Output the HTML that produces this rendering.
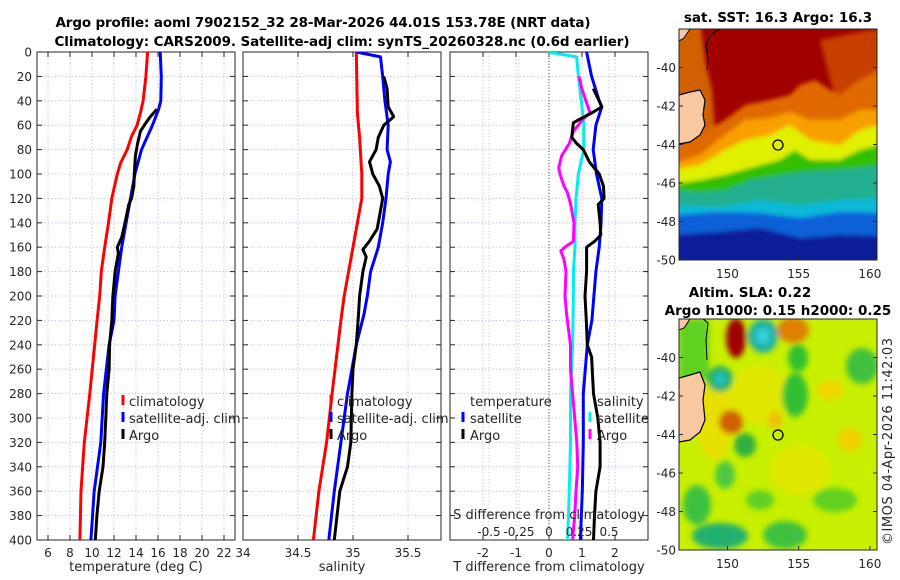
<!DOCTYPE html>
<html><head><meta charset="utf-8">
<style>
html,body{margin:0;padding:0;background:#fff;}
svg{display:block;font-family:"DejaVu Sans","Liberation Sans",sans-serif;}
.tk{font-size:12px;fill:#262626;}
.tt{font-size:13.5px;font-weight:bold;fill:#000;}
.lab{font-size:13px;fill:#262626;}
.lg{font-size:13px;fill:#262626;}
</style></head>
<body>
<svg id="fig" width="900" height="580" viewBox="0 0 900 580" xmlns="http://www.w3.org/2000/svg">
<defs>
<clipPath id="c1"><rect x="37" y="52" width="198" height="488"/></clipPath>
<clipPath id="c2"><rect x="243" y="52" width="198" height="488"/></clipPath>
<clipPath id="c3"><rect x="450" y="52" width="198" height="488"/></clipPath>
<clipPath id="cm1"><rect x="679" y="29" width="198" height="231"/></clipPath>
<clipPath id="cm2"><rect x="679" y="319" width="198" height="231"/></clipPath>
<filter id="blur4"><feGaussianBlur stdDeviation="3"/></filter>
<filter id="blur2"><feGaussianBlur stdDeviation="2"/></filter>
</defs>
<text class="tt" x="323" y="27" text-anchor="middle" textLength="535">Argo profile: aoml 7902152_32 28-Mar-2026 44.01S 153.78E (NRT data)</text>
<text class="tt" x="342" y="46" text-anchor="middle" textLength="575">Climatology: CARS2009. Satellite-adj clim: synTS_20260328.nc (0.6d earlier)</text>
<g id="p1"></g>
<g id="p2"></g>
<g id="p3"></g>

<!-- SST map -->
<g>
<text class="tt" x="778" y="22" text-anchor="middle">sat. SST: 16.3 Argo: 16.3</text>
<g clip-path="url(#cm1)">
<rect x="679" y="29" width="198" height="231" fill="#a00000"/>
<g filter="url(#blur2)">
<path d="M670,20 L700,20 L705,60 L712,90 L715,130 L720,150 L670,150Z" fill="#d06000"/>
<path d="M820,40 L870,30 L880,30 L880,120 L840,110 L830,80Z" fill="#c84000"/>
<path d="M670,140 L700,135 L725,120 L745,105 L770,100 L790,95 L800,85 L815,80 L830,90 L840,95 L860,80 L880,70 L880,300 L670,300Z" fill="#e06a00"/>
<path d="M670,165 L700,155 L725,135 L745,120 L770,118 L790,112 L810,120 L840,120 L860,110 L880,110 L880,300 L670,300Z" fill="#f8a000"/>
<path d="M670,170 L700,165 L725,150 L745,140 L770,135 L790,125 L810,140 L840,145 L860,130 L880,125 L880,300 L670,300Z" fill="#e0f000"/>
<path d="M670,185 L700,180 L725,175 L750,168 L780,160 L795,150 L810,160 L840,160 L860,150 L880,145 L880,300 L670,300Z" fill="#30c000"/>
<path d="M670,190 L700,192 L725,190 L750,180 L780,175 L800,172 L830,170 L860,168 L880,165 L880,300 L670,300Z" fill="#20b090"/>
<path d="M670,205 L720,207 L760,200 L800,205 L840,200 L880,198 L880,300 L670,300Z" fill="#10b8d8"/>
<path d="M670,215 L720,212 L760,213 L800,218 L840,212 L880,213 L880,300 L670,300Z" fill="#1060d8"/>
<path d="M670,235 L720,232 L760,228 L800,238 L840,235 L880,236 L880,300 L670,300Z" fill="#0a1a9a"/>
</g>
<path d="M679,29 L690,29 L684,38 L679,41Z" fill="#f8c8a0" stroke="#000" stroke-width="1"/>
<path d="M705,29 L720,29 L715,32 L710,36 L706,45 L708,60 L707,70" fill="none" stroke="#000" stroke-width="1"/>
<path d="M679,95 L690,92 L700,90 L705,100 L703,115 L705,125 L700,135 L690,142 L679,144Z" fill="#f8c8a0" stroke="#000" stroke-width="1.2"/>
</g>
<rect x="679" y="29" width="198" height="231" fill="none" stroke="#262626" stroke-width="1"/>
<circle cx="778" cy="145" r="5" fill="none" stroke="#000" stroke-width="1.3"/>
</g>

<!-- SLA map -->
<g>
<text class="tt" x="750" y="297" text-anchor="middle">Altim. SLA: 0.22</text>
<text class="tt" x="778" y="315" text-anchor="middle">Argo h1000: 0.15 h2000: 0.25</text>
<g clip-path="url(#cm2)">
<rect x="679" y="319" width="198" height="231" fill="#c8f000"/>
<g filter="url(#blur4)">
<rect x="679" y="319" width="30" height="60" fill="#60d020"/>
<ellipse cx="715" cy="420" rx="18" ry="40" fill="#e8e000"/>
<ellipse cx="760" cy="395" rx="30" ry="30" fill="#e0e800"/>
<ellipse cx="800" cy="470" rx="30" ry="25" fill="#e0e800"/>
<ellipse cx="736" cy="338" rx="10" ry="20" fill="#a00000"/>
<ellipse cx="763" cy="336" rx="15" ry="17" fill="#20b0a0"/>
<ellipse cx="763" cy="336" rx="7" ry="8" fill="#30d0e0"/>
<ellipse cx="793" cy="330" rx="16" ry="13" fill="#e08000"/>
<ellipse cx="720" cy="379" rx="13" ry="13" fill="#20b060"/>
<ellipse cx="720" cy="379" rx="6" ry="7" fill="#20c0c0"/>
<ellipse cx="731" cy="422" rx="12" ry="12" fill="#d06000"/>
<ellipse cx="795" cy="395" rx="13" ry="22" fill="#30c030"/>
<ellipse cx="798" cy="358" rx="10" ry="14" fill="#30c030"/>
<ellipse cx="745" cy="445" rx="11" ry="12" fill="#30b040"/>
<ellipse cx="720" cy="536" rx="28" ry="13" fill="#20b070"/>
<ellipse cx="697" cy="505" rx="14" ry="20" fill="#40c040"/>
<ellipse cx="862" cy="366" rx="16" ry="18" fill="#40c040"/>
<ellipse cx="785" cy="535" rx="22" ry="14" fill="#40c040"/>
<ellipse cx="835" cy="500" rx="22" ry="12" fill="#60d020"/>
<ellipse cx="760" cy="500" rx="14" ry="10" fill="#60d020"/>
<ellipse cx="725" cy="475" rx="10" ry="14" fill="#50c840"/>
<ellipse cx="850" cy="440" rx="12" ry="12" fill="#f0d000"/>
<ellipse cx="775" cy="420" rx="7" ry="9" fill="#f0c000"/>
<ellipse cx="830" cy="390" rx="14" ry="10" fill="#f0d800"/>
</g>
<path d="M679,319 L690,319 L684,328 L679,330Z" fill="#f8c8a0" stroke="#000" stroke-width="1"/>
<path d="M703,319 L708,323 L706,340 L707,360" fill="none" stroke="#000" stroke-width="1"/>
<path d="M679,378 L690,375 L700,372 L705,385 L703,400 L705,420 L700,432 L690,440 L679,442Z" fill="#f8c8a0" stroke="#000" stroke-width="1.2"/>
</g>
<rect x="679" y="319" width="198" height="231" fill="none" stroke="#262626" stroke-width="1"/>
<circle cx="778" cy="435" r="5" fill="none" stroke="#000" stroke-width="1.3"/>
</g>
<text class="lab" transform="translate(892,545) rotate(-90)" textLength="207">©IMOS 04-Apr-2026 11:42:03</text>
</svg>
<script>
// ---- data (depth in m, values in data units) ----
const depthTicks = [0,20,40,60,80,100,120,140,160,180,200,220,240,260,280,300,320,340,360,380,400];
const tempTicks = [6,8,10,12,14,16,18,20,22];
const salTicks = [34,34.5,35,35.5];
const tdTicks = [-2,-1,0,1,2];
const sdTicks = [-0.5,-0.25,0,0.25,0.5];
const sdTickLabels = ["-0.5","-0.25","0","0.25","0.5"];
const latTicks = [-40,-42,-44,-46,-48,-50];
const lonTicks = [150,155,160];

const tClimDepth = [0,20,40,50,60,69,80,91,100,120,140,160,180,200,220,280,320,360,400];
const tClimVal   = [15.05,14.9,14.65,14.4,14.1,13.6,13.2,12.6,12.3,11.8,11.5,11.15,10.85,10.7,10.46,9.8,9.3,9.0,8.9];
const tSatDepth = [0,20,40,47,60,70,80,90,100,120,140,160,180,200,220,240,280,320,360,400];
const tSatVal   = [16.2,16.3,16.25,16.05,15.5,15.0,14.5,14.2,13.9,13.5,13.1,12.7,12.4,12.1,12.0,11.55,11.05,10.8,10.2,9.9];
const tArgoDepth = [47,53,58,65,75,85,100,110,120,125,140,152,160,165,180,200,220,240,260,280,300,320,340,360,380,400];
const tArgoVal   = [15.9,15.3,14.9,14.4,14.15,13.95,13.85,13.8,13.6,13.35,13.0,12.7,12.3,12.4,12.1,11.9,11.8,11.6,11.55,11.35,11.25,11.15,11.0,10.65,10.45,10.3];

const sClimDepth = [0,50,70,100,120,140,160,180,200,220,280,320,360,400];
const sClimVal   = [35.03,35.04,35.06,35.08,35.08,35.04,35.0,34.96,34.92,34.89,34.81,34.76,34.69,34.64];
const sSatDepth = [0,4,20,40,60,80,90,100,120,140,160,180,200,215,240,280,320,360,400];
const sSatVal   = [35.03,35.25,35.27,35.29,35.32,35.31,35.34,35.32,35.3,35.27,35.23,35.16,35.13,35.1,35.03,34.95,34.89,34.83,34.78];
const sArgoDepth = [20,30,45,53,60,70,80,90,100,110,120,130,145,155,162,168,180,200,215,240,260,280,320,340,360,400];
const sArgoVal   = [35.28,35.31,35.32,35.37,35.28,35.23,35.21,35.15,35.18,35.24,35.27,35.25,35.22,35.15,35.09,35.12,35.09,35.06,35.05,35.03,35.0,34.99,34.98,34.95,34.88,34.83];

const sdSatDepth = [0,4,20,40,60,80,100,120,140,160,180,200,220,240,280,320,360,400];
const sdSatVal   = [-0.01,0.23,0.245,0.27,0.29,0.29,0.245,0.225,0.217,0.217,0.203,0.203,0.2,0.197,0.179,0.179,0.169,0.155];
const sdArgoDepth = [20,30,45,50,55,65,75,85,95,100,110,115,125,140,155,160,163,170,180,200,215,240,260,280,300,320,340,360,380,400];
const sdArgoVal   = [0.25,0.273,0.325,0.342,0.283,0.203,0.169,0.106,0.081,0.092,0.125,0.153,0.181,0.208,0.203,0.133,0.098,0.125,0.142,0.133,0.147,0.179,0.179,0.197,0.214,0.232,0.239,0.225,0.214,0.197];
const tdSatDepth = [0,20,40,45,60,80,100,120,140,160,180,200,220,240,260,280,320,360,400];
const tdSatVal   = [1.14,1.29,1.52,1.6,1.42,1.34,1.44,1.6,1.58,1.52,1.42,1.36,1.3,1.16,1.1,1.04,1.04,1.01,0.95];
const tdArgoDepth = [30,40,45,50,55,58,62,70,75,80,90,100,110,120,125,140,150,155,160,180,200,220,240,250,280,300,320,340,360,380,400];
const tdArgoVal   = [1.34,1.52,1.6,1.29,0.94,0.74,0.72,0.69,0.84,1.04,1.22,1.52,1.65,1.67,1.49,1.55,1.57,1.39,1.14,1.14,1.09,1.13,1.16,1.29,1.35,1.48,1.55,1.55,1.42,1.38,1.35];

// ---- layout ----
const NS='http://www.w3.org/2000/svg';
const Y0=52,Y1=540;
const yD=d=>Y0+(d/400)*(Y1-Y0);
function lin(d0,d1,r0,r1){return v=>r0+(v-d0)/(d1-d0)*(r1-r0);}
const xT=lin(5,23,37,235), xS=lin(34,35.8,243,441), xTd=lin(-3,3,450,648), xSd=lin(-0.825,0.825,450,648);
function mk(tag,attrs,parent){const e=document.createElementNS(NS,tag);for(const k in attrs)e.setAttribute(k,attrs[k]);parent.appendChild(e);return e;}

function panel(g,x0,clip,xs,ticks,labels,showY){
  const gr=mk('g',{},g);
  ticks.forEach(t=>{mk('line',{x1:xs(t),x2:xs(t),y1:Y0,y2:Y1,stroke:'#b8bedc','stroke-width':0.8,'stroke-dasharray':'1.5,2'},gr);});
  depthTicks.forEach(d=>{mk('line',{x1:x0,x2:x0+198,y1:yD(d),y2:yD(d),stroke:'#b8bedc','stroke-width':0.8,'stroke-dasharray':'1.5,2'},gr);
    mk('line',{x1:x0,x2:x0+5,y1:yD(d),y2:yD(d),stroke:'#262626'},gr);
    mk('line',{x1:x0+193,x2:x0+198,y1:yD(d),y2:yD(d),stroke:'#262626'},gr);
    if(showY){const t=mk('text',{x:x0-5,y:yD(d)+4.5,'text-anchor':'end',class:'tk'},gr);t.textContent=d;
      
      }
  });
  ticks.forEach((t,i)=>{mk('line',{x1:xs(t),x2:xs(t),y1:Y1,y2:Y1-5,stroke:'#262626'},gr);mk('line',{x1:xs(t),x2:xs(t),y1:Y0,y2:Y0+5,stroke:'#262626'},gr);
    const tx=mk('text',{x:xs(t),y:Y1+17,'text-anchor':'middle',class:'tk'},gr);tx.textContent=labels[i];
    
    });
  mk('rect',{x:x0,y:Y0,width:198,height:Y1-Y0,fill:'none',stroke:'#262626','stroke-width':1},gr);
}
function series(g,clip,xs,dep,val,color,name){
  const pts=dep.map((d,i)=>xs(val[i]).toFixed(1)+','+yD(d).toFixed(1)).join(' ');
  const p=mk('polyline',{points:pts,fill:'none',stroke:color,'stroke-width':3,'stroke-linejoin':'round','clip-path':'url(#'+clip+')'},g);
  
  
}
function text(g,x,y,s,cls,anchor,name){const t=mk('text',{x:x,y:y,class:cls,'text-anchor':anchor||'start'},g);t.textContent=s;
  
  return t;}
function legendBar(g,x,y,color){mk('line',{x1:x,x2:x,y1:y-11,y2:y-1,stroke:color,'stroke-width':3},g);}

const p1=document.getElementById('p1'),p2=document.getElementById('p2'),p3=document.getElementById('p3');
panel(p1,37,'c1',xT,tempTicks,tempTicks.map(String),true);
series(p1,'c1',xT,tClimDepth,tClimVal,'#ff0000','temp-climatology-line');
series(p1,'c1',xT,tSatDepth,tSatVal,'#0000ff','temp-satellite-line');
series(p1,'c1',xT,tArgoDepth,tArgoVal,'#000000','temp-argo-line');
text(p1,136,571,'temperature (deg C)','lab','middle','temperature-axis-title');
[['climatology','#ff0000'],['satellite-adj. clim','#0000ff'],['Argo','#000']].forEach((e,i)=>{legendBar(p1,123,406+i*17,e[1]);text(p1,129,406+i*17,e[0],'lg','start','temp-legend-entry');});

panel(p2,243,'c2',xS,salTicks,['34','34.5','35','35.5'],false);
series(p2,'c2',xS,sClimDepth,sClimVal,'#ff0000','sal-climatology-line');
series(p2,'c2',xS,sSatDepth,sSatVal,'#0000ff','sal-satellite-line');
series(p2,'c2',xS,sArgoDepth,sArgoVal,'#000000','sal-argo-line');
text(p2,342,571,'salinity','lab','middle','salinity-axis-title');
[['climatology','#ff0000'],['satellite-adj. clim','#0000ff'],['Argo','#000']].forEach((e,i)=>{legendBar(p2,331,406+i*17,e[1]);text(p2,337,406+i*17,e[0],'lg','start','sal-legend-entry');});

panel(p3,450,'c3',xTd,tdTicks,tdTicks.map(String),false);
sdTicks.forEach(t=>{if(t!==0)mk('line',{x1:xSd(t),x2:xSd(t),y1:Y0,y2:Y1,stroke:'#e0c0b0','stroke-width':0.8,'stroke-dasharray':'1.5,2'},p3);});
mk('line',{x1:xTd(0),x2:xTd(0),y1:Y0,y2:Y1,stroke:'#4a6a2a','stroke-width':1,'stroke-dasharray':'1,2'},p3);
series(p3,'c3',xSd,sdSatDepth,sdSatVal,'#00eeee','s-diff-satellite-line');
series(p3,'c3',xSd,sdArgoDepth,sdArgoVal,'#ff00ff','s-diff-argo-line');
series(p3,'c3',xTd,tdSatDepth,tdSatVal,'#0000ff','t-diff-satellite-line');
series(p3,'c3',xTd,tdArgoDepth,tdArgoVal,'#000000','t-diff-argo-line');
text(p3,549,571,'T difference from climatology','lab','middle','t-diff-axis-title');
text(p3,549,519,'S difference from climatology','lab','middle','s-diff-axis-title');
sdTicks.forEach((t,i)=>text(p3,xSd(t),536,sdTickLabels[i],'tk','middle','s-diff-tick-label'));
text(p3,470,406,'temperature','lg','start','t-legend-heading');
text(p3,597,406,'salinity','lg','start','s-legend-heading');
legendBar(p3,463,423,'#0000ff');text(p3,470,423,'satellite','lg','start','t-legend-satellite');
legendBar(p3,463,440,'#000');text(p3,470,440,'Argo','lg','start','t-legend-argo');
legendBar(p3,590,423,'#00eeee');text(p3,597,423,'satellite','lg','start','s-legend-satellite');
legendBar(p3,590,440,'#ff00ff');text(p3,597,440,'Argo','lg','start','s-legend-argo');

// map axes
const fig=document.getElementById('fig');
const lonX=lin(146.6,160.5,679,877);
[[29,260],[319,550]].forEach((m,k)=>{
  const latY=lin(-38,-50,m[0],m[1]);
  const g=mk('g',{},fig);
  latTicks.forEach(l=>{const y=latY(l);mk('line',{x1:877,x2:873,y1:y,y2:y,stroke:'#262626'},g);mk('line',{x1:679,x2:683,y1:y,y2:y,stroke:'#262626'},g);
    text(g,676,y+4.5,String(l),'tk','end','map-lat-label');});
  lonTicks.forEach(l=>{const x=lonX(l);mk('line',{x1:x,x2:x,y1:m[1],y2:m[1]-4,stroke:'#262626'},g);
    text(g,x,m[1]+18,String(l),'tk','middle','map-lon-label');});
});
</script>
</body></html>
